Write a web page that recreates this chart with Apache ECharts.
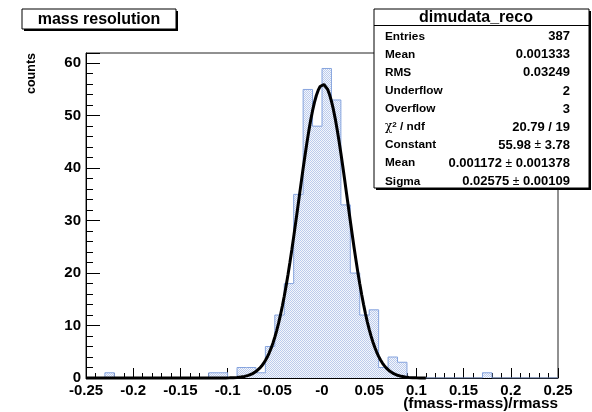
<!DOCTYPE html>
<html>
<head>
<meta charset="utf-8">
<script src="https://cdn.jsdelivr.net/npm/echarts@6/dist/echarts.min.js"></script>
<style>
  html, body { margin: 0; padding: 0; background: #fff; }
  #chart { width: 592px; height: 412px; }
</style>
</head>
<body>
<div id="chart"></div>
<script>
// Histogram binning: 50 bins of width 0.01 over [-0.25, 0.25]
const binLow = -0.25;
const binWidth = 0.01;
const counts = [
  0, 0, 1, 0, 0, 0, 0, 0, 0, 0,
  0, 0, 0, 1, 1, 0, 2, 2, 1, 6,
  12, 18, 35, 55, 48, 59, 53, 33, 20, 12,
  13, 2, 4, 3, 0, 0, 0, 0, 0, 0,
  0, 0, 1, 0, 0, 0, 0, 0, 0, 0
];

// Gaussian fit result and its drawn range
const fitConstant = 55.98;
const fitMean = 0.001172;
const fitSigma = 0.02575;
const fitRange = [-0.25, 0.11];

// Axis tick labels
const xTickLabels = ['-0.25', '-0.2', '-0.15', '-0.1', '-0.05', '-0', '0.05', '0.1', '0.15', '0.2', '0.25'];
const yTickLabels = ['0', '10', '20', '30', '40', '50', '60'];

// Statistics box contents
const statsTitle = 'dimudata_reco';
const statsNames = ['Entries', 'Mean', 'RMS', 'Underflow', 'Overflow', '{chi|\u03c7}{sup|2} / ndf', 'Constant', 'Mean', 'Sigma'];
const statsValues = ['387', '0.001333', '0.03249', '2', '3', '20.79 / 19',
  '55.98 {pm|\u00b1} 3.78', '0.001172 {pm|\u00b1} 0.001378', '0.02575 {pm|\u00b1} 0.00109'];

const histTitle = 'mass resolution';
const xTitle = '(fmass-rmass)/rmass';
const yTitle = 'counts';

// Step outline of the histogram
const histData = counts.map((c, k) => [binLow + k * binWidth, c]);
histData.push([binLow + counts.length * binWidth, counts[counts.length - 1]]);

// Fit curve sampled from the fitted parameters
const fitData = [];
const nSamples = 180;
for (let i = 0; i <= nSamples; i++) {
  const x = fitRange[0] + (fitRange[1] - fitRange[0]) * i / nSamples;
  const z = (x - fitMean) / fitSigma;
  fitData.push([x, fitConstant * Math.exp(-0.5 * z * z)]);
}

// Dotted fill texture for the histogram body
const tex = document.createElement('canvas');
tex.width = 2; tex.height = 2;
const tctx = tex.getContext('2d');
tctx.fillStyle = '#f4f7fc'; tctx.fillRect(0, 0, 2, 2);
tctx.fillStyle = '#bccbec'; tctx.fillRect(0, 0, 1, 1); tctx.fillRect(1, 1, 1, 1);

const font = 'Liberation Sans, Arial, Helvetica, sans-serif';
const gridLeft = 86, gridTop = 53, gridW = 472, gridH = 325;

// Statistics box graphics
const boxX = 374, boxY = 9, boxW = 215, boxH = 179;
const statsGraphics = [
  { type: 'rect', shape: { x: boxX + 2, y: boxY + 2, width: boxW, height: boxH }, style: { fill: '#000' }, z: 100 },
  { type: 'rect', shape: { x: boxX, y: boxY, width: boxW, height: boxH }, style: { fill: '#fff', stroke: '#000', lineWidth: 1 }, z: 101 },
  { type: 'line', shape: { x1: boxX, y1: 25.5, x2: boxX + boxW, y2: 25.5 }, style: { stroke: '#000', lineWidth: 1 }, z: 102 },
  { type: 'text', x: 476, y: 17.5, z: 102,
    style: { text: statsTitle, font: 'bold 16px ' + font, fill: '#000', align: 'center', verticalAlign: 'middle' } }
];
statsNames.forEach((name, i) => {
  const y = 36.8 + i * 18.06;
  statsGraphics.push({ type: 'text', x: 385, y: y, z: 102,
    style: { text: name, font: 'bold 11.8px ' + font, fill: '#000', align: 'left', verticalAlign: 'middle',
      rich: {
        chi: { font: '12px DejaVu Serif, serif', fill: '#000' },
        sup: { font: 'bold 8px ' + font, fill: '#000', verticalAlign: 'top', padding: [0, 0, 5, 0] }
      } } });
  statsGraphics.push({ type: 'text', x: 570, y: y, z: 102,
    style: { text: statsValues[i], font: 'bold 13px ' + font, fill: '#000', align: 'right', verticalAlign: 'middle',
      rich: { pm: { font: '12px ' + font, fill: '#000' } } } });
});

// Title box graphics
const titleGraphics = [
  { type: 'rect', shape: { x: 24, y: 11, width: 154, height: 20 }, style: { fill: '#000' }, z: 100 },
  { type: 'rect', shape: { x: 22, y: 9, width: 154, height: 20 }, style: { fill: '#fff', stroke: '#000', lineWidth: 1 }, z: 101 },
  { type: 'text', x: 99, y: 20, z: 102,
    style: { text: histTitle, font: 'bold 16px ' + font, fill: '#000', align: 'center', verticalAlign: 'middle' } }
];

// Axis titles
const axisTitleGraphics = [
  { type: 'text', x: 558, y: 404, z: 102,
    style: { text: xTitle, font: 'bold 15.4px ' + font, fill: '#000', align: 'right', verticalAlign: 'middle' } },
  { type: 'text', x: 32, y: 53, rotation: Math.PI / 2, z: 102,
    style: { text: yTitle, font: 'bold 12.5px ' + font, fill: '#000', align: 'right', verticalAlign: 'middle' } }
];

const chart = echarts.init(document.getElementById('chart'), null, { renderer: 'canvas' });
chart.setOption({
  animation: false,
  backgroundColor: '#fff',
  grid: {
    left: gridLeft, top: gridTop, width: gridW, height: gridH,
    show: true, borderColor: '#222', borderWidth: 1, backgroundColor: 'transparent'
  },
  xAxis: {
    type: 'value',
    min: -0.25, max: 0.25, interval: 0.05,
    axisLine: { show: true, onZero: false, lineStyle: { color: '#000', width: 1 } },
    axisTick: { show: true, inside: true, length: 10, lineStyle: { color: '#000', width: 1 } },
    minorTick: { show: true, splitNumber: 5, length: 5, lineStyle: { color: '#000', width: 1 } },
    splitLine: { show: false },
    axisLabel: {
      margin: 5,
      fontFamily: font, fontSize: 15, fontWeight: 'bold', color: '#000',
      formatter: v => xTickLabels[Math.round((v + 0.25) / 0.05)] ?? ''
    }
  },
  yAxis: {
    type: 'value',
    min: 0, max: 61.95, interval: 10,
    axisLine: { show: true, onZero: false, lineStyle: { color: '#000', width: 1 } },
    axisTick: { show: true, inside: true, length: 14, lineStyle: { color: '#000', width: 1 } },
    minorTick: { show: true, splitNumber: 5, length: 7, lineStyle: { color: '#000', width: 1 } },
    splitLine: { show: false },
    axisLabel: {
      margin: 5, showMaxLabel: false,
      fontFamily: font, fontSize: 15, fontWeight: 'bold', color: '#000',
      formatter: v => {
        const i = Math.round(v / 10);
        return Math.abs(v - i * 10) < 1e-6 ? (yTickLabels[i] ?? '') : '';
      }
    }
  },
  series: [
    {
      name: 'dimudata_reco',
      type: 'line',
      step: 'end',
      data: histData,
      symbol: 'none',
      lineStyle: { color: '#86a4de', width: 1 },
      areaStyle: { color: { image: tex, repeat: 'repeat' }, opacity: 1 },
      z: 2
    },
    {
      name: 'gaus',
      type: 'line',
      data: fitData,
      symbol: 'none',
      clip: false,
      lineStyle: { color: '#000', width: 3 },
      z: 3
    }
  ],
  graphic: [...titleGraphics, ...statsGraphics, ...axisTitleGraphics]
});
</script>
</body>
</html>
